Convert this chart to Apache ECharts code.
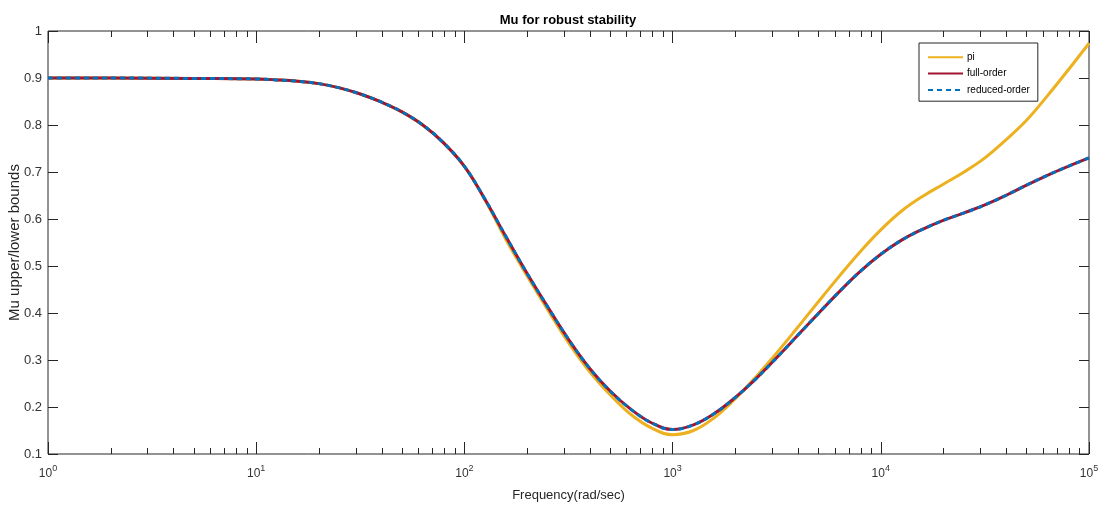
<!DOCTYPE html>
<html>
<head>
<meta charset="utf-8">
<script src="https://cdn.jsdelivr.net/npm/echarts@6/dist/echarts.min.js"></script>
<style>
html,body{margin:0;padding:0;background:#fff;}
#chart{width:1105px;height:510px;}
</style>
</head>
<body>
<div id="chart"></div>
<script>
// Frequency (rad/sec) sample points
const freq = [1, 2, 5, 10, 12.59, 15.85, 19.95, 25.12, 31.62, 39.81, 50.12, 63.10, 79.43,
  100, 125.9, 158.5, 199.5, 251.2, 316.2, 398.1, 501.2, 631.0, 794.3,
  1000, 1259, 1585, 1995, 2512, 3162, 3981, 5012, 6310, 7943,
  10000, 12589, 15849, 19953, 25119, 31623, 39811, 50119, 63096, 79433, 100000];

const piVals = [0.900, 0.900, 0.899, 0.898, 0.896, 0.893, 0.888, 0.879, 0.866, 0.849, 0.828, 0.800, 0.762,
  0.712, 0.640, 0.556, 0.480, 0.407, 0.337, 0.276, 0.226, 0.184, 0.155,
  0.141, 0.150, 0.177, 0.217, 0.264, 0.315, 0.369, 0.424, 0.478, 0.530,
  0.577, 0.617, 0.648, 0.674, 0.700, 0.730, 0.768, 0.810, 0.862, 0.917, 0.974];

const fullVals = [0.900, 0.900, 0.899, 0.898, 0.896, 0.893, 0.888, 0.879, 0.866, 0.849, 0.828, 0.800, 0.762,
  0.712, 0.641, 0.562, 0.485, 0.413, 0.344, 0.283, 0.234, 0.195, 0.166,
  0.152, 0.162, 0.186, 0.220, 0.260, 0.305, 0.352, 0.399, 0.445, 0.488,
  0.525, 0.555, 0.578, 0.597, 0.613, 0.630, 0.650, 0.672, 0.693, 0.712, 0.730];

const reducedVals = [0.900, 0.900, 0.899, 0.898, 0.896, 0.893, 0.888, 0.879, 0.866, 0.849, 0.828, 0.800, 0.762,
  0.712, 0.641, 0.562, 0.485, 0.413, 0.344, 0.283, 0.234, 0.195, 0.166,
  0.152, 0.162, 0.186, 0.220, 0.260, 0.305, 0.352, 0.399, 0.445, 0.488,
  0.525, 0.555, 0.578, 0.597, 0.613, 0.630, 0.650, 0.672, 0.693, 0.712, 0.730];

const seriesNames = ['pi', 'full-order', 'reduced-order'];
const minorTickVals = [];
[1, 10, 100, 1000, 10000].forEach(function (d) {
  [2, 3, 4, 5, 6, 7, 8, 9].forEach(function (k) { minorTickVals.push(k * d); });
});

const FONT = "'Liberation Sans', Arial, sans-serif";
const AX = '#262626';

function pairs(xs, ys) { return xs.map(function (x, i) { return [x, ys[i]]; }); }

const chart = echarts.init(document.getElementById('chart'), null, {renderer: 'canvas'});

const option = {
  backgroundColor: '#ffffff',
  animation: false,
  textStyle: {fontFamily: FONT},
  title: {
    text: 'Mu for robust stability',
    left: 563, textAlign: 'center', top: 9,
    textStyle: {fontFamily: FONT, fontSize: 13, fontWeight: 'bold', color: '#000'}
  },
  legend: {
    data: seriesNames,
    orient: 'vertical',
    left: 919, top: 43,
    padding: [9, 8, 6, 8],
    itemGap: 6,
    itemWidth: 35, itemHeight: 13,
    backgroundColor: '#fff',
    borderColor: AX, borderWidth: 1, borderRadius: 0,
    itemStyle: {opacity: 0},
    textStyle: {fontFamily: FONT, fontSize: 10, color: '#000', padding: [0, 0, 0, -1]}
  },
  grid: {left: 48, right: 16, top: 31, bottom: 56, outerBoundsMode: 'none', containLabel: false,
    show: true, borderColor: AX, borderWidth: 1, backgroundColor: 'transparent'},
  xAxis: [{
    type: 'log', logBase: 10, min: 1, max: 100000, position: 'bottom',
    name: 'Frequency(rad/sec)', nameLocation: 'middle', nameGap: 35, nameMoveOverlap: false,
    nameTextStyle: {fontFamily: FONT, fontSize: 13, color: '#262626'},
    axisLine: {show: false},
    axisTick: {show: true, inside: true, length: 12, lineStyle: {color: AX, width: 1}},
    splitLine: {show: false},
    axisLabel: {
      margin: 10,
      formatter: function (v) { return '{b|10}{s|' + Math.round(Math.log10(v)) + '}'; },
      rich: {
        b: {fontFamily: FONT, fontSize: 12, color: '#333', verticalAlign: 'bottom', lineHeight: 16},
        s: {fontFamily: FONT, fontSize: 9, color: '#333', verticalAlign: 'top', lineHeight: 16}
      }
    }
  }, {
    type: 'log', logBase: 10, min: 1, max: 100000, position: 'top',
    axisLine: {show: false},
    axisTick: {show: true, inside: true, length: 12, lineStyle: {color: AX, width: 1}},
    splitLine: {show: false},
    axisLabel: {show: false}
  }],
  yAxis: [{
    type: 'value', min: 0.1, max: 1, interval: 0.1, position: 'left',
    name: 'Mu upper/lower bounds', nameLocation: 'middle', nameGap: 26, nameRotate: 90, nameMoveOverlap: false,
    nameTextStyle: {fontFamily: FONT, fontSize: 15, color: '#262626'},
    axisLine: {show: false},
    axisTick: {show: true, inside: true, length: 10, lineStyle: {color: AX, width: 1}},
    splitLine: {show: false},
    axisLabel: {margin: 6, fontFamily: FONT, fontSize: 13, color: '#333',
      formatter: function (v) { return String(Math.round(v * 10) / 10); }}
  }, {
    type: 'value', min: 0.1, max: 1, interval: 0.1, position: 'right',
    axisLine: {show: false},
    axisTick: {show: true, inside: true, length: 10, lineStyle: {color: AX, width: 1}},
    splitLine: {show: false},
    axisLabel: {show: false}
  }],
  series: [
    {
      name: 'pi', type: 'line', data: pairs(freq, piVals), smooth: 0.4,
      symbol: 'none', showSymbol: false, z: 2,
      lineStyle: {color: '#EDB120', width: 3}, itemStyle: {color: '#EDB120'}
    },
    {
      name: 'full-order', type: 'line', data: pairs(freq, fullVals), smooth: 0.4,
      symbol: 'none', showSymbol: false, z: 3,
      lineStyle: {color: '#A2142F', width: 3}, itemStyle: {color: '#A2142F'}
    },
    {
      name: 'reduced-order', type: 'line', data: pairs(freq, reducedVals), smooth: 0.4,
      symbol: 'none', showSymbol: false, z: 4,
      lineStyle: {color: '#0072BD', width: 3, type: [5, 4]}, itemStyle: {color: '#0072BD'}
    },
    {
      name: 'minorTicks', type: 'custom', silent: true, z: 5,
      xAxisIndex: 0, yAxisIndex: 0,
      data: minorTickVals.map(function (v) { return [v, 0.1]; }),
      renderItem: function (params, api) {
        const v = api.value(0);
        const pb = api.coord([v, 0.1]);
        const pt = api.coord([v, 1]);
        const x = Math.round(pb[0]) + 0.5;
        return {
          type: 'group',
          children: [
            {type: 'line', shape: {x1: x, y1: pb[1], x2: x, y2: pb[1] - 6}, style: {stroke: AX, lineWidth: 1}},
            {type: 'line', shape: {x1: x, y1: pt[1], x2: x, y2: pt[1] + 6}, style: {stroke: AX, lineWidth: 1}}
          ]
        };
      }
    }
  ]
};
chart.setOption(option);
</script>
</body>
</html>
